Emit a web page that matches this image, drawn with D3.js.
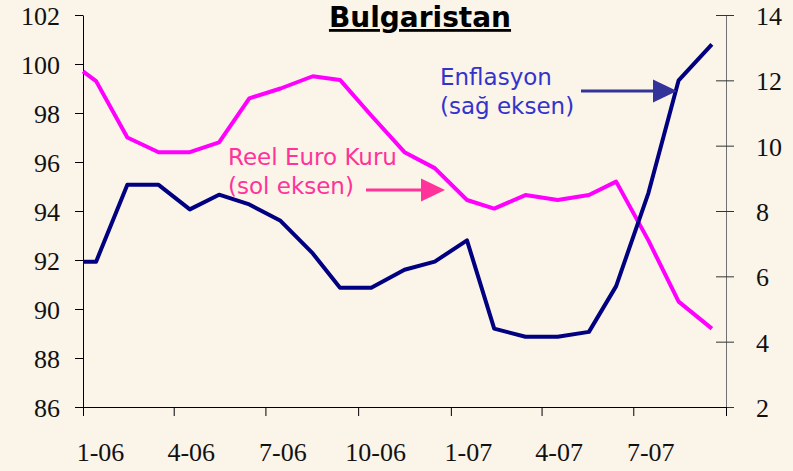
<!DOCTYPE html>
<html>
<head>
<meta charset="utf-8">
<script src="https://cdn.jsdelivr.net/npm/d3@7"></script>
<style>
  html, body { margin: 0; padding: 0; background: #faf4e9; }
  svg { display: block; }
</style>
</head>
<body>
<svg id="chart" width="793" height="471"></svg>
<script>
const dates = ["2006-01-01", "2006-01-14", "2006-02-14", "2006-03-17", "2006-04-17", "2006-05-16",
    "2006-06-15", "2006-07-16", "2006-08-17", "2006-09-13", "2006-10-14", "2006-11-16",
    "2006-12-16", "2007-01-17", "2007-02-13", "2007-03-16", "2007-04-17", "2007-05-18",
    "2007-06-14", "2007-07-16", "2007-08-15", "2007-09-17"];
// Reel Euro Kuru, left axis
const euroKuru = [99.7, 99.3, 97.0, 96.4, 96.4, 96.8, 98.6, 99.0, 99.5, 99.35, 97.9, 96.4,
    95.75, 94.45, 94.1, 94.65, 94.45, 94.65, 95.2, 92.8, 90.3, 89.2];
// Enflasyon, right axis
const enflasyon = [6.45, 6.45, 8.8, 8.8, 8.05, 8.5, 8.2, 7.7, 6.7, 5.65, 5.65, 6.2,
    6.45, 7.1, 4.4, 4.15, 4.15, 4.3, 5.7, 8.55, 12.0, 13.1];

const leftTicks = [86, 88, 90, 92, 94, 96, 98, 100, 102];
const rightTicks = [2, 4, 6, 8, 10, 12, 14];
const xTickDates = ["2006-01-01", "2006-04-01", "2006-07-01", "2006-10-01",
    "2007-01-01", "2007-04-01", "2007-07-01", "2007-10-01"];
const xTickLabels = ["1-06", "4-06", "7-06", "10-06", "1-07", "4-07", "7-07", ""];

const parse = d3.timeParse("%Y-%m-%d");
const mLeft = 83, mRight = 726, mTop = 15, mBottom = 407;

const svg = d3.select("#chart");

const x = d3.scaleTime()
    .domain([parse("2006-01-01"), parse("2007-10-01")])
    .range([mLeft, mRight]);
const yL = d3.scaleLinear().domain([86, 102]).range([mBottom, mTop]);
const yR = d3.scaleLinear().domain([2, 14]).range([mBottom, mTop]);

const serif = "'Liberation Serif', 'Times New Roman', serif";

// left axis
const gL = svg.append("g")
    .attr("transform", `translate(${mLeft},0)`)
    .call(d3.axisLeft(yL).tickValues(leftTicks).tickSize(8).tickPadding(15).tickSizeOuter(0));
gL.select(".domain").attr("stroke", "#000");
gL.selectAll("text").attr("font-family", serif).attr("font-size", 26).attr("fill", "#111").attr("dy", "0.37em");

// right axis, ticks cross the line
const gR = svg.append("g")
    .attr("transform", `translate(${mRight},0)`)
    .call(d3.axisRight(yR).tickValues(rightTicks).tickSize(8).tickPadding(22).tickSizeOuter(0));
gR.select(".domain").attr("stroke", "#707070");
gR.selectAll("line").attr("x1", -10).attr("stroke", "#333");
gR.selectAll("text").attr("font-family", serif).attr("font-size", 26).attr("fill", "#111").attr("dy", "0.37em");

// bottom axis
const gX = svg.append("g")
    .attr("transform", `translate(0,${mBottom})`)
    .call(d3.axisBottom(x)
        .tickValues(xTickDates.map(parse))
        .tickFormat((d, i) => xTickLabels[i])
        .tickSize(9).tickPadding(26.5).tickSizeOuter(0));
gX.select(".domain").attr("stroke", "#000");
gX.selectAll("text").attr("font-family", serif).attr("font-size", 26).attr("fill", "#111").attr("dx", 17);

// lines
const lineL = d3.line().x((d, i) => x(parse(dates[i]))).y(d => yL(d));
const lineR = d3.line().x((d, i) => x(parse(dates[i]))).y(d => yR(d));

svg.append("path").datum(euroKuru)
    .attr("d", lineL).attr("fill", "none")
    .attr("stroke", "#ff00ff").attr("stroke-width", 4).attr("stroke-linejoin", "round");
svg.append("path").datum(enflasyon)
    .attr("d", lineR).attr("fill", "none")
    .attr("stroke", "#000080").attr("stroke-width", 4).attr("stroke-linejoin", "round");

// title
svg.append("text")
    .attr("x", 420).attr("y", 27)
    .attr("text-anchor", "middle")
    .attr("font-family", "'DejaVu Sans', Verdana, sans-serif")
    .attr("font-weight", "bold").attr("font-size", 28)
    .attr("text-decoration", "underline")
    .text("Bulgaristan");

// annotations
const sans = "'DejaVu Sans', Tahoma, sans-serif";
const pinkText = "#ff3399";
const blueText = "#3333cc";

const euroLabel = svg.append("text").attr("font-family", sans).attr("font-size", 23).attr("fill", pinkText);
euroLabel.append("tspan").attr("x", 228).attr("y", 165).text("Reel Euro Kuru");
euroLabel.append("tspan").attr("x", 228).attr("y", 194).text("(sol eksen)");

svg.append("line").attr("x1", 366).attr("x2", 424).attr("y1", 190).attr("y2", 190)
    .attr("stroke", pinkText).attr("stroke-width", 3);
svg.append("path").attr("d", "M421,178.5 L445,190 L421,201.5 Z").attr("fill", pinkText);

const infLabel = svg.append("text").attr("font-family", sans).attr("font-size", 23).attr("fill", blueText);
infLabel.append("tspan").attr("x", 440).attr("y", 85).text("Enflasyon");
infLabel.append("tspan").attr("x", 440).attr("y", 114).text("(sağ eksen)");

svg.append("line").attr("x1", 581).attr("x2", 656).attr("y1", 91).attr("y2", 91)
    .attr("stroke", "#333399").attr("stroke-width", 3);
svg.append("path").attr("d", "M653,79.5 L677,91 L653,102.5 Z").attr("fill", "#333399");
</script>
</body>
</html>
